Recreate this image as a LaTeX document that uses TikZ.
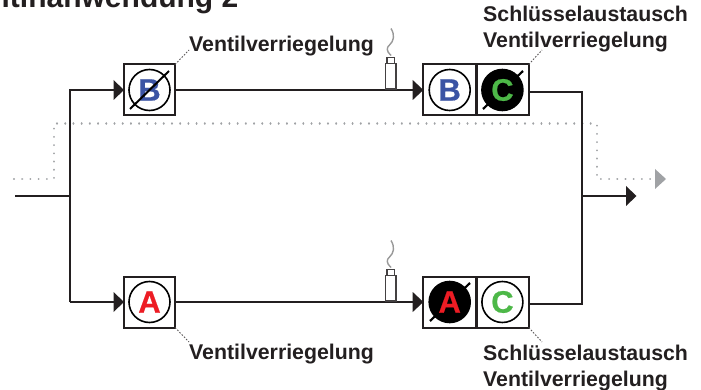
\documentclass[tikz,border=0pt]{standalone}
\usepackage{fontspec}
\setmainfont{Liberation Sans}
\definecolor{ink}{HTML}{231F20}
\definecolor{dotgray}{HTML}{A0A2A5}
\definecolor{lockblue}{HTML}{3B54A4}
\definecolor{lockred}{HTML}{ED1C24}
\definecolor{lockgreen}{HTML}{4DB848}
\tikzset{
  wire/.style={draw=ink,line width=2.1pt},
  dots/.style={draw=dotgray,line width=2.1pt,line cap=round,dash pattern=on 0.01pt off 8.2pt},
  leader/.style={draw=ink!75,line width=0.9pt,dash pattern=on 1.6pt off 1.6pt},
  box/.style={draw=ink,line width=2pt,fill=white,minimum width=51pt,minimum height=51pt,inner sep=0pt,outer sep=0pt},
  lockopen/.style={circle,draw=black,line width=1.6pt,fill=white,minimum size=41pt,inner sep=0pt},
  lockshut/.style={circle,draw=black,line width=1.6pt,fill=black,minimum size=41pt,inner sep=0pt},
  letter/.style={font=\bfseries\fontsize{31}{31}\selectfont\addfontfeature{FakeBold=0.6}},
  lbl/.style={font=\bfseries\fontsize{21.3}{26}\selectfont,text=ink,inner sep=0pt,align=left,anchor=base west},
  tip/.style={fill=ink,draw=none},
}
\begin{document}
\begin{tikzpicture}[x=1pt,y=-1pt]
\useasboundingbox (0,0) rectangle (701,390);
\begin{scope}
\clip (0,0) rectangle (701,390);
\node[font=\bfseries\fontsize{30}{30}\selectfont,text=ink,inner sep=0pt,anchor=base east] (title) at (238.5,8) {itlhanwendung 2};
\end{scope}
% dotted path
\coordinate (ds) at (14,179);
\coordinate (d1) at (54,179);
\coordinate (d2) at (54,123.5);
\coordinate (d3) at (596.7,123.5);
\coordinate (d4) at (596.7,179);
\coordinate (d5) at (652,179);
\draw[dots] (ds) -- (d1) -- (d2) -- (d3) -- (d4) -- (d5);
\fill[dotgray] (655,169) -- (666,179) -- (655,189) -- cycle;
% wires
\coordinate (in) at (15,196);
\coordinate (j) at (70,196);
\coordinate (jt) at (70,90);
\coordinate (jb) at (70,302);
\coordinate (ot) at (581.7,92);
\coordinate (ob) at (581.7,304);
\coordinate (om) at (581.7,196);
\coordinate (oa) at (627,196);
% nodes
\node[box] (bB) at (149.5,90) {};
\node[box] (bA) at (149.5,302) {};
\node[box,minimum width=52.7pt] (bB2) at (449.7,90) {};
\node[box,minimum width=52.7pt] (bC2) at (502.4,90) {};
\node[box,minimum width=52.7pt] (bA2) at (449.7,302) {};
\node[box,minimum width=52.7pt] (bC3) at (502.4,302) {};
\draw[ink,line width=3pt] (bB2.north east) -- (bB2.south east);
\draw[ink,line width=3pt] (bA2.north east) -- (bA2.south east);
\draw[wire] (jb) -- (jt) -- (bB.west);
\draw[wire] (in) -- (j);
\draw[wire] (jb) -- (bA.west);
\draw[wire] (bB.east) -- (bB2.west);
\draw[wire] (bA.east) -- (bA2.west);
\draw[wire] (bC2.east |- ot) -- (ot) -- (ob) -- (bC3.east |- ob);
\draw[wire] (om) -- (oa);
% arrowheads
\fill[tip] (113.5,80) -- (bB.west) -- (113.5,100) -- cycle;
\fill[tip] (113.5,292) -- (bA.west) -- (113.5,312) -- cycle;
\fill[tip] (412.7,80) -- (bB2.west) -- (412.7,100) -- cycle;
\fill[tip] (412.7,292) -- (bA2.west) -- (412.7,312) -- cycle;
\fill[tip] (626,186) -- (636.5,196) -- (626,206) -- cycle;
% locks
\node[lockopen] (cB) at (bB) {};
\node[letter,text=lockblue] (tB) at (bB) {B};
\draw[black,line width=2pt] (130,109) -- (169,71);
\node[lockopen] (cA) at (bA) {};
\node[letter,text=lockred] (tA) at (bA) {A};
\node[lockopen] (cB2) at (bB2) {};
\node[letter,text=lockblue] (tB2) at (bB2) {B};
\draw[black,line width=2.2pt] (483,109) -- (523,71);
\node[lockshut] (cC2) at (bC2) {};
\node[letter,text=lockgreen] (tC2) at (bC2) {C};
\draw[black,line width=2.2pt] (430,321) -- (470,283);
\node[lockshut] (cA2) at (bA2) {};
\node[letter,text=lockred] (tA2) at (bA2) {A};
\node[lockopen] (cC3) at (bC3) {};
\node[letter,text=lockgreen] (tC3) at (bC3) {C};
% sensors
\foreach \sy in {0,-212}{
  \begin{scope}[yshift=\sy pt]
    \draw[ink!85,line width=1.1pt,fill=white] (385.7,63.5) rectangle (396,89);
    \draw[ink!85,line width=1.1pt,fill=white] (387,57.5) rectangle (394.5,63.5);
    \draw[gray!80,line width=1.4pt] (391,55.5) .. controls (386,51) and (386.5,47.5) .. (389.5,45) .. controls (394,41) and (395,35) .. (391,28.5);
  \end{scope}
}
% labels
\node[lbl] (l1) at (189,52) {Ventilverriegelung};
\node[lbl] (l2) at (189,359) {Ventilverriegelung};
\node[lbl] (l3) at (483,48) {Schlüsselaustausch\\Ventilverriegelung};
\node[lbl] (l4) at (483,386) {Schlüsselaustausch\\Ventilverriegelung};
\coordinate (k1) at (189,50);
\coordinate (k2) at (189,342);
\coordinate (k3) at (542,50);
\coordinate (k4) at (542,342);
\draw[leader] (bB.north east) -- (k1);
\draw[leader] (bA.south east) -- (k2);
\draw[leader] (bC2.north east) -- (k3);
\draw[leader] (bC3.south east) -- (k4);
\end{tikzpicture}
\end{document}
